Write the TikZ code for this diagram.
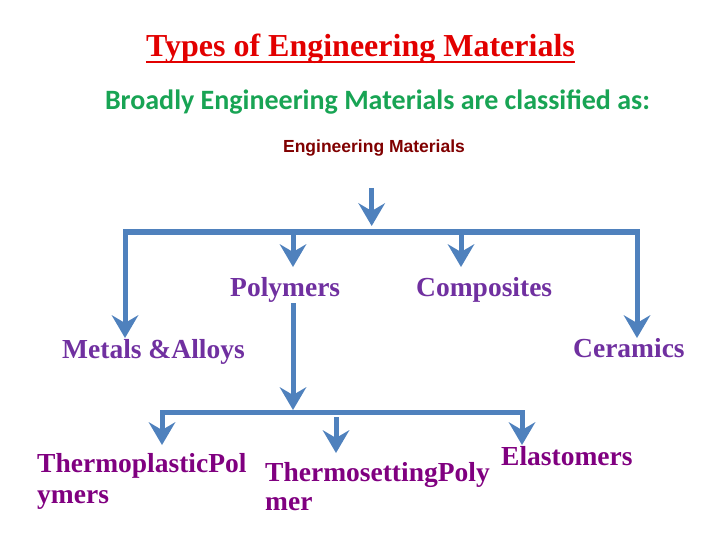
\documentclass[tikz,border=0pt]{standalone}
\usepackage{fontspec}
\setmainfont{Liberation Serif}
\newfontfamily\carlitofont{Carlito}
\newfontfamily\lsansfont{Liberation Sans}
\usetikzlibrary{arrows.meta}
\definecolor{flowblue}{RGB}{79,129,189}
\definecolor{titlered}{RGB}{226,0,0}
\definecolor{subgreen}{RGB}{24,164,84}
\definecolor{darkred}{RGB}{128,0,0}
\definecolor{mpurple}{RGB}{112,48,160}
\definecolor{bpurple}{RGB}{128,0,128}
\tikzset{
  head/.tip={Stealth[length=23pt,width=27pt,inset=8pt,line width=0pt]},
  flow/.style={draw=flowblue,line width=5pt,line join=miter},
  midlabel/.style={inner sep=0pt,text=mpurple,font=\bfseries\fontsize{27.5}{31}\selectfont},
  lowlabel/.style={inner sep=0pt,text=bpurple,align=left},
}
\begin{document}
\begin{tikzpicture}[x=1pt,y=-1pt]
\useasboundingbox (0,0) rectangle (720,540);
% texts
\node[inner sep=0pt,anchor=base,text=titlered,font=\bfseries\fontsize{32}{36}\selectfont] (title) at (360.5,57) {Types of Engineering Materials};
\draw[titlered,line width=2.2pt] ([yshift=-5pt]title.base west) -- ([yshift=-5pt]title.base east);
\node[inner sep=0pt,anchor=base,text=subgreen,font=\carlitofont\bfseries\fontsize{28}{32}\selectfont] (sub) at (377.5,110) {Broadly Engineering Materials are classified as:};
\node[inner sep=0pt,anchor=base,text=darkred,font=\lsansfont\bfseries\fontsize{17.5}{20}\selectfont] (em) at (374,153) {Engineering Materials};
\node[midlabel,anchor=base west] (poly) at (230,296.7) {Polymers};
\node[midlabel,anchor=base west] (comp) at (416,296) {Composites};
\node[midlabel,anchor=base west] (metal) at (62,358) {Metals \&Alloys};
\node[midlabel,anchor=base west] (cer) at (573,357) {Ceramics};
\node[lowlabel,anchor=base west,font=\bfseries\fontsize{27.5}{31}\selectfont] (tplast) at (37,503) {ThermoplasticPol\\ymers};
\node[lowlabel,anchor=base west,font=\bfseries\fontsize{27.5}{28.5}\selectfont] (tset) at (265,510) {ThermosettingPoly\\mer};
\node[lowlabel,anchor=base west,font=\bfseries\fontsize{27.5}{31}\selectfont] (elast) at (501,465) {Elastomers};
% junction coordinates
\coordinate (t0) at (371.7,188);
\coordinate (t1) at (371.7,226);
\coordinate (lbar) at (125,232);
\coordinate (rbar) at (637,232);
\coordinate (ltip) at (125,338);
\coordinate (rtip) at (637,338);
\coordinate (p0) at (293,232);
\coordinate (p1) at (293,267);
\coordinate (c0) at (461,232);
\coordinate (c1) at (461,267);
\coordinate (q0) at (293,303);
\coordinate (q1) at (293,410);
\coordinate (lbar2) at (162,412);
\coordinate (rbar2) at (522,412);
\coordinate (ltip2) at (162,445);
\coordinate (rtip2) at (522,445);
\coordinate (m0) at (336,417);
\coordinate (m1) at (336,453);
% connectors
\draw[flow,-{head}] (t0) -- (t1);
\draw[flow,{head}-{head}] (ltip) -- (lbar) -- (rbar) -- (rtip);
\draw[flow,-{head}] (p0) -- (p1);
\draw[flow,-{head}] (c0) -- (c1);
\draw[flow,-{head}] (q0) -- (q1);
\draw[flow,{head}-{head}] (ltip2) -- (lbar2) -- (rbar2) -- (rtip2);
\draw[flow,-{head}] (m0) -- (m1);
\end{tikzpicture}
\end{document}
